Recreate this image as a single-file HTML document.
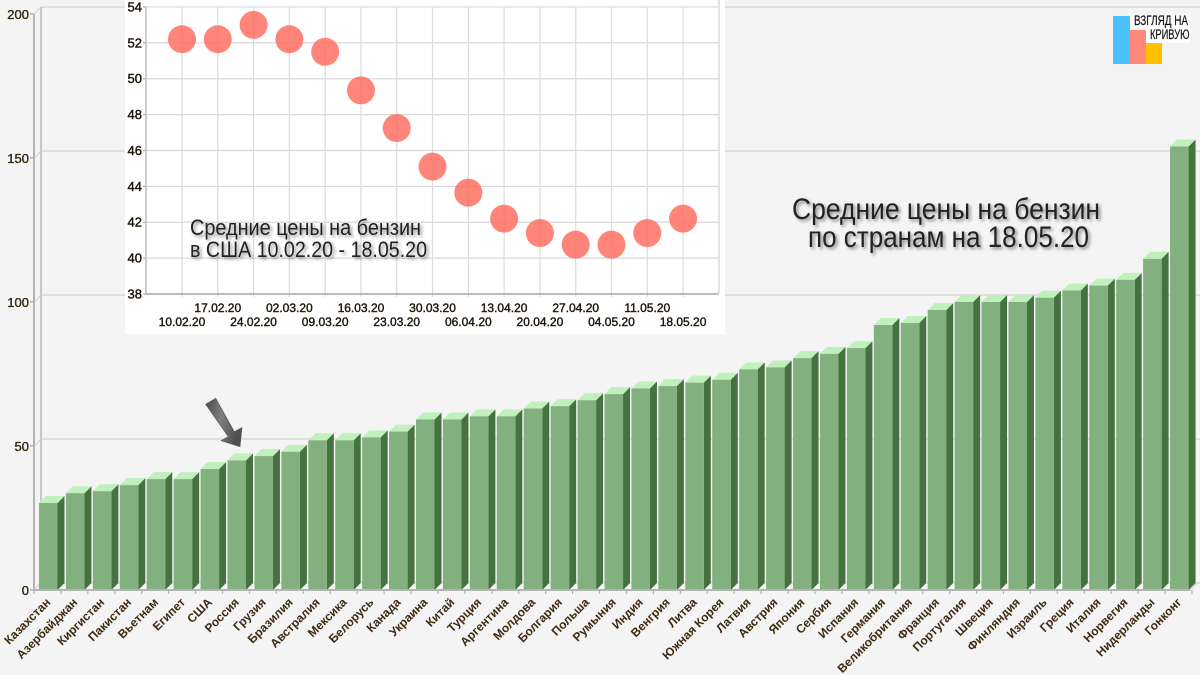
<!DOCTYPE html>
<html lang="ru">
<head>
<meta charset="utf-8">
<title>Средние цены на бензин</title>
<style>
html,body{margin:0;padding:0;background:#f4f4f4;width:1200px;height:675px;overflow:hidden}
svg{display:block;position:absolute;left:0;top:0}
text{font-family:"Liberation Sans","Noto Sans CJK SC",sans-serif}
.shadow{filter:drop-shadow(2px 2px 1.5px rgba(0,0,0,.45))}
</style>
</head>
<body>
<svg id="chart" xmlns="http://www.w3.org/2000/svg" width="1200" height="675" viewBox="0 0 1200 675">
<defs>
<linearGradient id="arrowGrad" x1="0" y1="0" x2="1" y2="0.35">
<stop offset="0" stop-color="#4a4a4a"/><stop offset="0.5" stop-color="#808080"/><stop offset="1" stop-color="#505050"/>
</linearGradient>
</defs>
<g id="mainAxes"></g>
<g id="bars"></g>
<g id="countryLabels"></g>
<rect x="125" y="0" width="600" height="334.500" fill="#fff"/>
<g id="insetAxes"></g>
<g id="insetPoints"></g>
<polygon points="205.700,404.300 215.700,398.300 234.300,431.700 242,427.700 240,446.700 221,440.700 228.300,436.700" fill="url(#arrowGrad)" stroke="#555" stroke-width=".6"/>
<g class="shadow" fill="#222" font-size="22">
<text x="190" y="235" textLength="231" lengthAdjust="spacingAndGlyphs">Средние цены на бензин</text>
<text x="190" y="257" textLength="237" lengthAdjust="spacingAndGlyphs">в США 10.02.20 - 18.05.20</text>
</g>
<g class="shadow" fill="#222" font-size="30">
<text x="792" y="219" textLength="308" lengthAdjust="spacingAndGlyphs">Средние цены на бензин</text>
<text x="808" y="247" textLength="281" lengthAdjust="spacingAndGlyphs">по странам на 18.05.20</text>
</g>
<g>
<rect x="1113" y="16" width="17" height="48" fill="#4cc3ff"/>
<rect x="1130" y="30" width="16" height="34" fill="#ff8a7c"/>
<rect x="1146" y="43" width="16" height="21" fill="#ffc000"/>
<rect x="1130" y="14" width="60" height="16" fill="#fff" opacity=".7"/>
<rect x="1146" y="30" width="44" height="13" fill="#fff" opacity=".7"/>
<text x="1134" y="25" font-size="13.500" fill="#111" stroke="#111" stroke-width=".2" textLength="54" lengthAdjust="spacingAndGlyphs">ВЗГЛЯД НА</text>
<text x="1150" y="39" font-size="13.500" fill="#111" stroke="#111" stroke-width=".2" textLength="39.500" lengthAdjust="spacingAndGlyphs">КРИВУЮ</text>
</g>
</svg>
<script>
const countries = ["Казахстан","Азербайджан","Киргистан","Пакистан","Вьетнам","Египет","США","Россия","Грузия","Бразилия","Австралия","Мексика","Белорусь","Канада","Украина","Китай","Турция","Аргентина","Молдова","Болгария","Польша","Румыния","Индия","Венгрия","Литва","Южная Корея","Латвия","Австрия","Япония","Сербия","Испания","Германия","Великобритания","Франция","Португалия","Швеция","Финляндия","Израиль","Греция","Италия","Норвегия","Нидерланды","Гонконг"];
const prices = [30.2,33.6,34.3,36.4,38.5,38.5,42,45,46.5,48,52,52,53,55,59.2,59.2,60.3,60.3,63,63.8,65.9,68,70,70.8,72,73,76.6,77.3,80.5,82,84,92,92.7,97.2,100,100,100,101.5,104,105.7,107.7,115,154];
const yTicks = [0,50,100,150,200];
const insetDates = ["10.02.20","17.02.20","24.02.20","02.03.20","09.03.20","16.03.20","23.03.20","30.03.20","06.04.20","13.04.20","20.04.20","27.04.20","04.05.20","11.05.20","18.05.20"];
const usPrices = [52.2,52.2,53,52.2,51.5,49.35,47.25,45.1,43.65,42.2,41.4,40.75,40.75,41.4,42.2];
const insetTicks = [38,40,42,44,46,48,50,52,54];

const NS = "http://www.w3.org/2000/svg";
function mk(tag, parent, attrs, txt) {
  const el = document.createElementNS(NS, tag);
  for (const k in attrs) el.setAttribute(k, attrs[k]);
  if (txt !== undefined) el.textContent = txt;
  parent.appendChild(el);
  return el;
}
const yMain = v => 590 - v * 2.88;
const xBar = i => 39 + i * 26.93;
const DEPTH = 7;
const BAR_W = 18.5;
const yInset = v => 294 - (v - 38) * 17.94;
const xInset = i => 182 + i * 35.79;

const axes = document.getElementById("mainAxes");
const axisColor = "#b4b4b4";
const gridColor = "#d8d8d8";
yTicks.forEach(t => {
  const y = yMain(t);
  const grid = mk("line", axes, {x1: 34 + DEPTH, y1: y - DEPTH, x2: 1200, y2: y - DEPTH, stroke: gridColor, "stroke-width": 1.6});
  
  
  const diag = mk("line", axes, {x1: 34, y1: y, x2: 34 + DEPTH, y2: y - DEPTH, stroke: gridColor, "stroke-width": 1.4});
  
  
  const tick = mk("line", axes, {x1: 30, y1: y, x2: 34, y2: y, stroke: axisColor, "stroke-width": 1.5});
  
  
  const lbl = mk("text", axes, {x: 29, y: y + 5, "text-anchor": "end", "font-size": 13, fill: "#33240c", stroke: "#33240c", "stroke-width": .35}, String(t));
  
  
});
const yAxisFront = mk("line", axes, {x1: 34, y1: yMain(200), x2: 34, y2: yMain(0), stroke: axisColor, "stroke-width": 2});


const yAxisBack = mk("line", axes, {x1: 41, y1: yMain(200) - DEPTH, x2: 41, y2: yMain(0) - DEPTH, stroke: "#c8c8c8", "stroke-width": 2});



const barsG = document.getElementById("bars");
const labelsG = document.getElementById("countryLabels");
countries.forEach((name, i) => {
  const x = xBar(i), top = yMain(prices[i]), base = yMain(0);
  const g = mk("g", barsG, {});
  
  
  const side = mk("polygon", g, {points: `${x+BAR_W},${top} ${x+BAR_W+DEPTH},${top-DEPTH} ${x+BAR_W+DEPTH},${base-DEPTH} ${x+BAR_W},${base}`, fill: "#44733f"});
  
  
  const cap = mk("polygon", g, {points: `${x},${top} ${x+DEPTH},${top-DEPTH} ${x+BAR_W+DEPTH},${top-DEPTH} ${x+BAR_W},${top}`, fill: "#c0f0bc"});
  
  
  const front = mk("rect", g, {x: x, y: top, width: BAR_W, height: base - top, fill: "#82b07e"});
  
  
  const tx = x + BAR_W / 2 + 3, ty = 603;
  const lbl = mk("text", labelsG, {x: tx, y: ty, "text-anchor": "end", "font-size": 12, "font-weight": "bold", fill: "#3d2b0f", transform: `rotate(-45 ${tx} ${ty})`}, name);
  
  
});
const xAxis = mk("line", axes, {x1: 33, y1: yMain(0), x2: 1190, y2: yMain(0), stroke: axisColor, "stroke-width": 2});


barsG.parentNode.insertBefore(xAxis, labelsG);
for (let i = 0; i <= countries.length; i++) {
  const tx = 34 + i * 26.93;
  const t = mk("line", axes, {x1: tx, y1: yMain(0), x2: tx, y2: yMain(0) + 4, stroke: axisColor, "stroke-width": 1.2});
  
  
}
const xEnd = mk("line", axes, {x1: 1190, y1: yMain(0), x2: 1197, y2: yMain(0) - DEPTH, stroke: gridColor, "stroke-width": 1.5});



const ia = document.getElementById("insetAxes");
insetTicks.forEach(t => {
  const y = yInset(t);
  const g = mk("line", ia, {x1: 146, y1: y, x2: 719, y2: y, stroke: "#d9d9d9", "stroke-width": 1.2});
  
  
  const tk = mk("line", ia, {x1: 143, y1: y, x2: 146, y2: y, stroke: "#999", "stroke-width": 1});
  
  
  const l = mk("text", ia, {x: 142, y: y + 4.5, "text-anchor": "end", "font-size": 13, fill: "#1c1408", stroke: "#1c1408", "stroke-width": .4}, String(t));
  
  
});
insetDates.forEach((d, i) => {
  const x = xInset(i);
  const g = mk("line", ia, {x1: x, y1: yInset(54), x2: x, y2: 297, stroke: "#dcdcdc", "stroke-width": 1.2});
  
  
  const l = mk("text", ia, {x: x, y: i % 2 ? 312 : 326, "text-anchor": "middle", "font-size": 12, fill: "#1c1408", stroke: "#1c1408", "stroke-width": .4}, d);
  
  
});
const iy = mk("line", ia, {x1: 146, y1: yInset(54), x2: 146, y2: 294, stroke: "#bdbdbd", "stroke-width": 1.5});


const ix = mk("line", ia, {x1: 146, y1: 294, x2: 719, y2: 294, stroke: "#9a9a9a", "stroke-width": 1.2});


const ir = mk("line", ia, {x1: 719, y1: 0, x2: 719, y2: 294, stroke: "#dcdcdc", "stroke-width": 1.5});



const ip = document.getElementById("insetPoints");
usPrices.forEach((v, i) => {
  const c = mk("circle", ip, {cx: xInset(i), cy: yInset(v), r: 14, fill: "#ff6f62", "fill-opacity": .85});
  
  
});
</script>
</body>
</html>
